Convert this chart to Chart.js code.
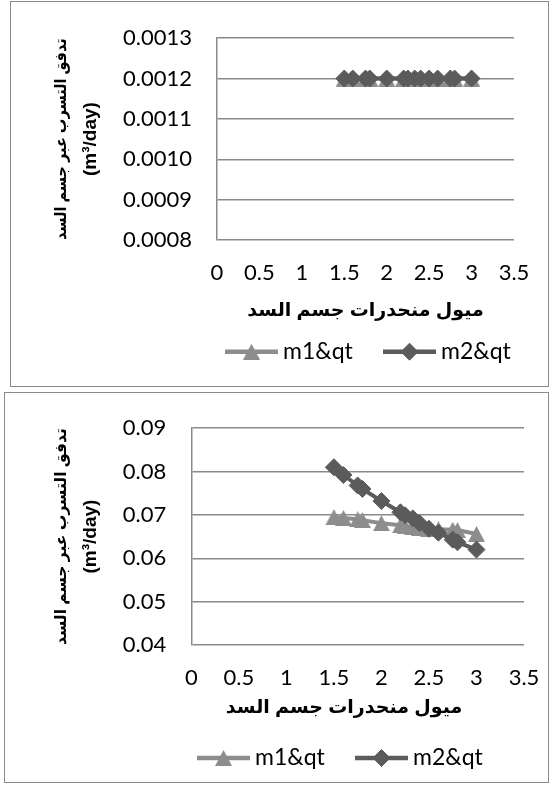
<!DOCTYPE html>
<html><head><meta charset="utf-8">
<script src="https://cdn.jsdelivr.net/npm/chart.js@4.4.0/dist/chart.umd.min.js"></script>
<style>
html,body{margin:0;padding:0;background:#fff;overflow:hidden;width:552px;height:785px;position:relative;}
.box{position:absolute;border:1px solid #8a8a8a;box-sizing:border-box;pointer-events:none;z-index:2;}
canvas{position:absolute;left:0;}
</style></head><body>
<canvas id="c1" width="552" height="390" style="top:0px"></canvas>
<canvas id="c2" width="690" height="395" style="top:390px"></canvas>
<div class="box" style="left:10px;top:1px;width:539px;height:386px"></div>
<div class="box" style="left:4px;top:392px;width:545px;height:391px"></div>
<script>
// ---- data ----
const slopes = [1.5, 1.6, 1.75, 1.8, 2.0, 2.2, 2.25, 2.33, 2.4, 2.5, 2.6, 2.75, 2.8, 3.0];
const topM1 = [0.0012, 0.0012, 0.0012, 0.0012, 0.0012, 0.0012, 0.0012, 0.0012, 0.0012, 0.0012, 0.0012, 0.0012, 0.0012, 0.0012];
const topM2 = [0.0012, 0.0012, 0.0012, 0.0012, 0.0012, 0.0012, 0.0012, 0.0012, 0.0012, 0.0012, 0.0012, 0.0012, 0.0012, 0.0012];
const bottomM1 = [0.0695, 0.0693, 0.0690, 0.0688, 0.0681, 0.0676, 0.0674, 0.0672, 0.0670, 0.0668, 0.0667, 0.0666, 0.0665, 0.0656];
const bottomM2 = [0.0810, 0.0792, 0.0768, 0.0760, 0.0732, 0.0706, 0.0699, 0.0692, 0.0681, 0.0668, 0.0659, 0.0643, 0.0637, 0.0620];
const xTicks = [0, 0.5, 1, 1.5, 2, 2.5, 3, 3.5];
const topYTicks = [0.0008, 0.0009, 0.0010, 0.0011, 0.0012, 0.0013];
const bottomYTicks = [0.04, 0.05, 0.06, 0.07, 0.08, 0.09];
const seriesNames = ['m1&qt', 'm2&qt'];
const yTitleAr = 'تدفق التسرب عبر جسم السد';
const yTitleUnit = '(m³/day)';
const xTitle = 'ميول منحدرات جسم السد';

// ---- style ----
const C1 = '#8d8d8d', C2 = '#5b5b5b', GRID = '#8a8a8a';
const TFONT = '"Liberation Sans", "DejaVu Sans", sans-serif';

function triImg(color) {
  const c = document.createElement('canvas');
  c.width = 17; c.height = 16;
  const g = c.getContext('2d');
  g.fillStyle = color;
  g.beginPath(); g.moveTo(8.5, 0); g.lineTo(17, 16); g.lineTo(0, 16); g.closePath(); g.fill();
  return c;
}
const tri = triImg(C1);

const lineLegend = {
  id: 'lineLegend',
  afterDraw(chart, args, o) {
    const ctx = chart.ctx;
    ctx.save();
    ctx.font = o.font;
    ctx.textBaseline = 'middle';
    ctx.textAlign = 'left';
    chart.data.datasets.forEach((ds, i) => {
      const x = o.x + i * o.gap, y = o.y;
      ctx.strokeStyle = ds.borderColor; ctx.lineWidth = o.lineWidth;
      ctx.beginPath(); ctx.moveTo(x, y); ctx.lineTo(x + o.lineLen, y); ctx.stroke();
      ctx.fillStyle = ds.backgroundColor; ctx.strokeStyle = ds.borderColor; ctx.lineWidth = 1;
      Chart.helpers.drawPoint(ctx, {pointStyle: ds.pointStyle, radius: ds.pointRadius, borderWidth: ds.pointBorderWidth || 0, rotation: 0}, x + o.lineLen / 2, y);
      ctx.fillStyle = '#000';
      ctx.fillText(ds.label, x + o.lineLen + o.textGap, y);
    });
    ctx.restore();
  }
};

function makeDatasets(m1, m2) {
  return [
    {label: seriesNames[0], data: slopes.map((x, i) => ({x, y: m1[i]})), borderColor: C1, backgroundColor: C1,
     pointStyle: tri, pointRadius: 8, borderWidth: 4, order: 1},
    {label: seriesNames[1], data: slopes.map((x, i) => ({x, y: m2[i]})), borderColor: C2, backgroundColor: C2,
     pointBackgroundColor: C2, pointBorderColor: C2, pointStyle: 'rectRot', pointRadius: 8.5, pointBorderWidth: 1,
     borderWidth: 4, order: 0}
  ];
}

function makeChart(id, m1, m2, yTicks, dec, L) {
  const scales = {
    x: {
      type: 'linear', min: 0, max: 3.5,
      afterBuildTicks: s => { s.ticks = xTicks.map(v => ({value: v})); },
      afterFit: s => { s.height = L.xH; },
      ticks: {padding: L.xPad, color: '#000', font: {family: 'Lato', size: 22}, maxRotation: 0, autoSkip: false,
              callback: v => String(v)},
      grid: {display: false, drawTicks: false}, border: {display: false}
    },
    y: {
      type: 'linear', min: yTicks[0], max: yTicks[yTicks.length - 1],
      afterBuildTicks: s => { s.ticks = yTicks.map(v => ({value: v})); },
      afterFit: s => { s.width = L.yW; },
      ticks: {padding: 25, color: '#000', font: {family: 'Lato', size: 22}, callback: v => Number(v).toFixed(dec)},
      grid: {color: GRID, lineWidth: 1.5, drawTicks: false},
      border: {display: true, color: GRID, width: 1.5},
      title: {display: true, text: yTitleUnit, color: '#000',
              font: {family: TFONT, size: 19, weight: 'bold', lineHeight: 1.2},
              padding: {top: 7.3, bottom: 0}}
    }
  };
  if (L.rightW) {
    scales.y2 = {
      type: 'linear', position: 'right', min: 0, max: 1, display: true,
      afterFit: s => { s.width = L.rightW; },
      ticks: {display: false}, grid: {display: false, drawTicks: false}, border: {display: false}
    };
  }
  return new Chart(document.getElementById(id), {
    type: 'line',
    data: {datasets: makeDatasets(m1, m2)},
    plugins: [lineLegend],
    options: {
      responsive: false, animation: false, devicePixelRatio: 1,
      layout: {padding: {left: L.padL, right: L.padR, top: L.padT, bottom: L.padB}},
      plugins: {
        legend: {display: false},
        tooltip: {enabled: false},
        subtitle: {display: true, text: yTitleAr, position: 'left', fullSize: false, color: '#000',
                   font: {family: TFONT, size: 16, weight: 'bold', lineHeight: 1.2}, padding: {top: 42.4, bottom: 0}},
        title: {display: true, text: xTitle, position: 'bottom', fullSize: L.titleFull, weight: 10,
                color: '#000', font: {family: TFONT, size: 19, weight: 'bold', lineHeight: 1.2}, padding: {top: 0, bottom: 0}},
        lineLegend: {x: L.legX, y: L.legY, gap: 158, lineLen: 53, textGap: 5, lineWidth: 4.5, font: '23px Lato'}
      },
      scales
    }
  });
}

makeChart('c1', topM1, topM2, topYTicks, 4, {
  padL: 10, padR: 38, padT: 31, padB: 68.2, titleFull: false,
  xH: 59, xPad: 19.8, yW: 145.4, legX: 225, legY: 351.7
});
makeChart('c2', bottomM1, bottomM2, bottomYTicks, 2, {
  padL: 10, padR: 12, padT: 26, padB: 66.2, titleFull: true, rightW: 154,
  xH: 51, xPad: 20, yW: 119.7, legX: 197, legY: 368
});
</script>
</body></html>
